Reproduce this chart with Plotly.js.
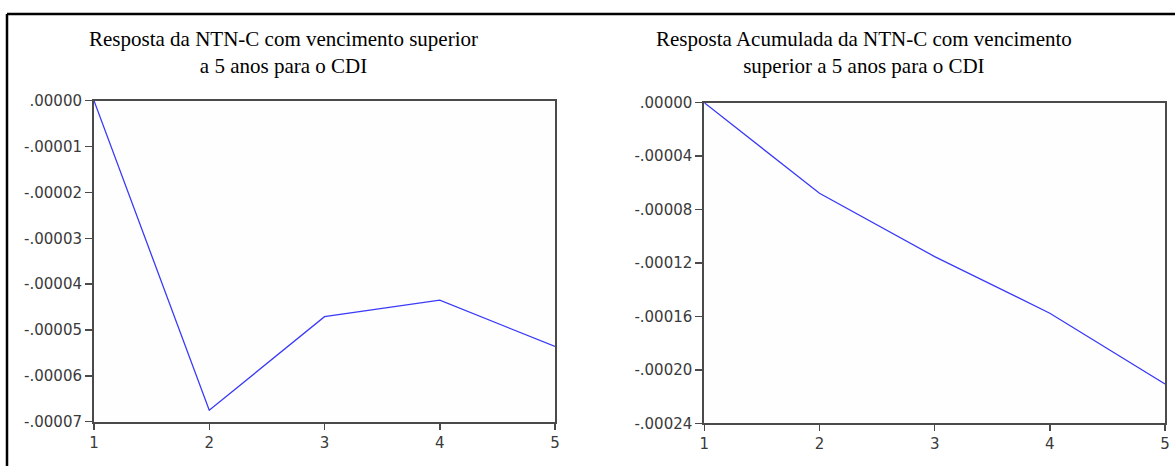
<!DOCTYPE html>
<html>
<head>
<meta charset="utf-8">
<script src="https://cdn.plot.ly/plotly-3.0.1.min.js"></script>
<style>
  html, body { margin: 0; padding: 0; background: #ffffff; }
  #chart { width: 1175px; height: 466px; }
</style>
</head>
<body>
<div id="chart"></div>
<script>
// Periods (horizon)
const periods = [1, 2, 3, 4, 5];

// Response of NTN-C (> 5 years) to CDI
const respostaValues = [0.0, -0.0000675, -0.0000471, -0.0000435, -0.0000536];

// Accumulated response
const acumuladaValues = [0.0, -0.0000678, -0.0001152, -0.0001576, -0.0002105];

// Titles
const titleLeft = "Resposta da NTN-C com vencimento superior<br>a 5 anos para o CDI";
const titleRight = "Resposta Acumulada da NTN-C com vencimento<br>superior a 5 anos para o CDI";

// Tick labels
const leftTickVals = [0, -0.00001, -0.00002, -0.00003, -0.00004, -0.00005, -0.00006, -0.00007];
const leftTickText = [".00000", "-.00001", "-.00002", "-.00003", "-.00004", "-.00005", "-.00006", "-.00007"];
const rightTickVals = [0, -0.00004, -0.00008, -0.00012, -0.00016, -0.00020, -0.00024];
const rightTickText = [".00000", "-.00004", "-.00008", "-.00012", "-.00016", "-.00020", "-.00024"];

const W = 1175, H = 466;
const px = x => x / W;
const py = y => 1 - y / H;

const lineColor = "#3a3af8";
const axisColor = "#4a4a4a";
const tickFont = { family: "DejaVu Sans, Arial, sans-serif", size: 15, color: "#3a3a3a" };

function xAxis(domain, anchor) {
  return {
    domain: domain, anchor: anchor,
    range: [1, 5], tickvals: periods, ticktext: periods.map(String),
    showgrid: false, zeroline: false,
    showline: true, linecolor: axisColor, linewidth: 2, mirror: true,
    ticks: "outside", ticklen: 6, tickwidth: 1.5, tickcolor: axisColor,
    tickfont: tickFont, fixedrange: true
  };
}
function yAxis(domain, anchor, range, vals, text) {
  return {
    domain: domain, anchor: anchor,
    range: range, tickvals: vals, ticktext: text,
    showgrid: false, zeroline: false,
    showline: true, linecolor: axisColor, linewidth: 2, mirror: true,
    ticks: "outside", ticklen: 7, tickwidth: 1.5, tickcolor: axisColor,
    tickfont: tickFont, fixedrange: true
  };
}

const data = [
  { x: periods, y: respostaValues, xaxis: "x", yaxis: "y", mode: "lines",
    line: { color: lineColor, width: 1.3 }, hoverinfo: "x+y", showlegend: false },
  { x: periods, y: acumuladaValues, xaxis: "x2", yaxis: "y2", mode: "lines",
    line: { color: lineColor, width: 1.3 }, hoverinfo: "x+y", showlegend: false }
];

const titleFont = { family: "Liberation Serif, Times New Roman, serif", size: 21, color: "#000000" };

const layout = {
  width: W, height: H,
  margin: { l: 0, r: 0, t: 0, b: 0 },
  paper_bgcolor: "#ffffff", plot_bgcolor: "#fefefe",
  showlegend: false,
  xaxis: xAxis([px(94), px(555)], "y"),
  yaxis: yAxis([py(421.7), py(100.7)], "x", [-0.00007, 0], leftTickVals, leftTickText),
  xaxis2: xAxis([px(704.3), px(1165)], "y2"),
  yaxis2: yAxis([py(423.3), py(102.7)], "x2", [-0.00024, 0], rightTickVals, rightTickText),
  annotations: [
    { text: titleLeft, xref: "paper", yref: "paper", x: px(283), y: py(25),
      xanchor: "center", yanchor: "top", showarrow: false, font: titleFont, align: "center" },
    { text: titleRight, xref: "paper", yref: "paper", x: px(864), y: py(25),
      xanchor: "center", yanchor: "top", showarrow: false, font: titleFont, align: "center" }
  ],
  shapes: [
    { type: "line", xref: "paper", yref: "paper", x0: px(7), x1: px(7), y0: -0.1, y1: py(14),
      line: { color: "#000000", width: 2.5 } },
    { type: "line", xref: "paper", yref: "paper", x0: px(7), x1: 1.1, y0: py(14), y1: py(14),
      line: { color: "#000000", width: 2.5 } }
  ]
};

Plotly.newPlot("chart", data, layout, { staticPlot: true, displayModeBar: false });
</script>
</body>
</html>
